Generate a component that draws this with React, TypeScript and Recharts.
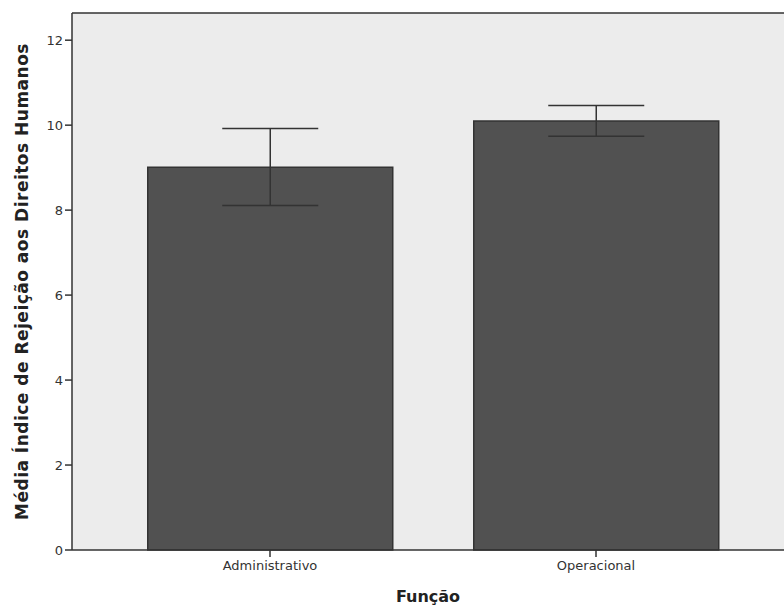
import React from "react";
import {
  BarChart,
  Bar,
  XAxis,
  YAxis,
  CartesianGrid,
  ErrorBar,
  ReferenceLine,
} from "recharts";

const categories = ["Administrativo", "Operacional"];
const means = [9.01, 10.1];
const lowerCI = [8.11, 9.74];
const upperCI = [9.92, 10.46];
const yTicks = [0, 2, 4, 6, 8, 10, 12];

const Y_MAX = 12.64;
const FONT = "'DejaVu Sans', sans-serif";

const data = categories.map((name, i) => ({
  name,
  mean: means[i],
  err: [means[i] - lowerCI[i], upperCI[i] - means[i]],
}));

export default function App() {
  return (
    <div style={{ position: "absolute", top: 0, left: 0, background: "#fff" }}>
      <BarChart
        width={784}
        height={607}
        data={data}
        margin={{ top: 13, right: 0, left: 0, bottom: 0 }}
        barCategoryGap="12.5%"
      >
        <CartesianGrid fill="#ececec" horizontal={false} vertical={false} />
        <ReferenceLine y={Y_MAX} stroke="#333" strokeWidth={1.5} ifOverflow="extendDomain" />
        <XAxis
          dataKey="name"
          height={57}
          padding={{ left: 35, right: 25 }}
          tickSize={7}
          tickMargin={4}
          tick={{ fill: "#333", fontSize: 13, fontFamily: FONT }}
          stroke="#333"
          strokeWidth={1.5}
          label={{
            value: "Função",
            position: "insideBottom",
            offset: 5,
            style: { fontSize: 16, fontWeight: "bold", fill: "#222", fontFamily: FONT },
          }}
        />
        <YAxis
          width={72}
          domain={[0, Y_MAX]}
          ticks={yTicks}
          tickSize={7}
          tick={{ fill: "#333", fontSize: 13, fontFamily: FONT }}
          stroke="#333"
          strokeWidth={1.5}
          label={{
            value: "Média Índice de Rejeição aos Direitos Humanos",
            angle: -90,
            position: "insideLeft",
            offset: 22,
            style: {
              textAnchor: "middle",
              fontSize: 17,
              letterSpacing: 0.5,
              fontWeight: "bold",
              fill: "#222",
              fontFamily: FONT,
            },
          }}
        />
        <Bar
          dataKey="mean"
          fill="#515151"
          stroke="#333"
          strokeWidth={1.5}
          isAnimationActive={false}
        >
          <ErrorBar dataKey="err" width={48} stroke="#333" strokeWidth={1.5} />
        </Bar>
      </BarChart>
    </div>
  );
}
